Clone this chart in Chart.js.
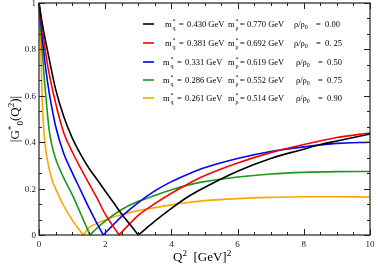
<!DOCTYPE html>
<html>
<head>
<meta charset="utf-8">
<script src="https://cdn.jsdelivr.net/npm/chart.js@4"></script>
<style>
  body { margin: 0; background: #fff; }
  canvas { display: block; }
</style>
</head>
<body>
<canvas id="formFactorChart" width="376" height="267"></canvas>
<script>
// |G*_0(Q^2)|, one curve per density
const q2Black  = [0, 0.1, 0.25, 0.5, 0.75, 1, 1.25, 1.5, 1.75, 2, 2.25, 2.5, 2.75, 3, 3.25, 3.5, 4, 4.5, 5, 6, 7, 8, 8.5, 9, 10]
const gBlack   = [1, 0.91, 0.8, 0.63, 0.51, 0.42, 0.35, 0.29, 0.24, 0.19, 0.14, 0.09, 0.045, 0, 0.03, 0.06, 0.115, 0.165, 0.205, 0.275, 0.33, 0.37, 0.39, 0.405, 0.435]

const q2Red    = [0, 0.1, 0.25, 0.5, 0.75, 1, 1.25, 1.5, 1.75, 2, 2.25, 2.42, 2.75, 3, 3.5, 4, 4.5, 5, 6, 7, 8, 9, 10]
const gRed     = [1, 0.89, 0.74, 0.57, 0.44, 0.36, 0.29, 0.225, 0.16, 0.09, 0.035, 0, 0.05, 0.085, 0.135, 0.18, 0.22, 0.255, 0.31, 0.355, 0.39, 0.42, 0.44]

const q2Blue   = [0, 0.1, 0.2, 0.3, 0.4, 0.5, 0.75, 1, 1.25, 1.5, 1.75, 1.94, 2.25, 2.5, 3, 3.5, 4, 4.5, 5, 6, 7, 8, 9, 10]
const gBlue    = [1, 0.85, 0.72, 0.62, 0.54, 0.47, 0.35, 0.27, 0.195, 0.12, 0.05, 0, 0.045, 0.08, 0.14, 0.19, 0.23, 0.262, 0.29, 0.33, 0.36, 0.38, 0.395, 0.4]

const q2Green  = [0, 0.05, 0.1, 0.15, 0.2, 0.3, 0.4, 0.5, 0.75, 1, 1.25, 1.54, 1.75, 2, 2.5, 3, 3.5, 4, 4.5, 5, 6, 7, 8, 9, 10]
const gGreen   = [1, 0.9, 0.79, 0.69, 0.61, 0.46, 0.38, 0.33, 0.245, 0.175, 0.095, 0, 0.03, 0.06, 0.11, 0.145, 0.17, 0.195, 0.215, 0.23, 0.25, 0.263, 0.27, 0.273, 0.274]

const q2Orange = [0, 0.05, 0.1, 0.15, 0.2, 0.3, 0.4, 0.5, 0.75, 1, 1.2, 1.35, 1.5, 1.75, 2, 2.5, 3, 3.5, 4, 4.5, 5, 6, 7, 8, 9, 10]
const gOrange  = [1, 0.82, 0.57, 0.44, 0.37, 0.29, 0.235, 0.2, 0.125, 0.065, 0.025, 0, 0.03, 0.05, 0.065, 0.088, 0.105, 0.118, 0.13, 0.14, 0.148, 0.157, 0.162, 0.165, 0.165, 0.164]

const curveColors = ['#000000', '#ff0000', '#0000ff', '#1a9a1a', '#ffa500']
const mqLabels   = ['0.430', '0.381', '0.331', '0.286', '0.261']
const mrhoLabels = ['0.770', '0.692', '0.619', '0.552', '0.514']
const rhoLabels  = ['0.00', '0. 25', '0.50', '0.75', '0.90']

const xTickValues = [0, 2, 4, 6, 8, 10]
const xTickLabels = ['0', '2', '4', '6', '8', '10']
const yTickValues = [0, 0.2, 0.4, 0.6, 0.8, 1]
const yTickLabels = ['0', '0.2', '0.4', '0.6', '0.8', '1']

const serif = '"Liberation Serif", "DejaVu Serif", serif'

// split each curve at its zero so the cusp stays sharp
function buildDatasets(xs, ys, color){
    const zeroIndex = ys.indexOf(0)
    const points = xs.map((x, i) => ({x, y: ys[i]}))
    const part = data => ({
        data,
        borderColor: color,
        borderWidth: 1.6,
        pointRadius: 0,
        fill: false,
        cubicInterpolationMode: 'monotone',
        clip: 3
    })
    return [part(points.slice(0, zeroIndex + 1)), part(points.slice(zeroIndex))]
}

// draws runs of text: [text, 'n' | 'sup' | 'sub']
function drawRuns(ctx, runs, x, y, size){
    runs.forEach(([text, kind]) => {
        const s = kind === 'n' ? size : size * 0.7
        const dy = kind === 'sup' ? -size * 0.42 : kind === 'sub' ? size * 0.28 : 0
        ctx.font = `${s}px ${serif}`
        ctx.fillText(text, x, y + dy)
        x += ctx.measureText(text).width
    })
    return x
}

function runsWidth(ctx, runs, size){
    return runs.reduce((w, [text, kind]) => {
        ctx.font = `${kind === 'n' ? size : size * 0.7}px ${serif}`
        return w + ctx.measureText(text).width
    }, 0)
}

// "m" with a star above and a subscript below, like the grace legend
function drawMass(ctx, x, y, sub){
    ctx.font = `8.5px ${serif}`
    ctx.fillText('m', x, y)
    ctx.font = `6px ${serif}`
    ctx.fillText('*', x + 7.5, y - 4)
    ctx.fillText(sub, x + 7.5, y + 3)
}

const gracePlugin = {
    id: 'grace',
    afterDraw(chart){
        const {ctx, chartArea: {left, right, top, bottom}, scales: {x, y}} = chart
        ctx.save()
        ctx.strokeStyle = '#222'
        ctx.lineWidth = 1.2
        ctx.strokeRect(left, top, right - left, bottom - top)

        // inward ticks on all four sides
        ctx.lineWidth = 1
        ctx.beginPath()
        for(let v = 0; v <= 10.001; v += 0.5){
            const px = Math.round(x.getPixelForValue(v)) + 0.5
            const len = Math.abs(v % 2) < 0.001 ? 6 : 3
            ctx.moveTo(px, bottom); ctx.lineTo(px, bottom - len)
            ctx.moveTo(px, top); ctx.lineTo(px, top + len)
        }
        for(let k = 0; k <= 15; k++){
            const py = Math.round(y.getPixelForValue(k / 15)) + 0.5
            const len = k % 3 === 0 ? 6 : 3
            ctx.moveTo(left, py); ctx.lineTo(left + len, py)
            ctx.moveTo(right, py); ctx.lineTo(right - len, py)
        }
        ctx.stroke()

        // tick labels
        ctx.fillStyle = '#222'
        ctx.font = `9px ${serif}`
        ctx.textAlign = 'center'
        ctx.textBaseline = 'alphabetic'
        xTickValues.forEach((v, i) => ctx.fillText(xTickLabels[i], x.getPixelForValue(v), bottom + 12))
        ctx.textAlign = 'right'
        yTickValues.forEach((v, i) => ctx.fillText(yTickLabels[i], left - 3, y.getPixelForValue(v) + 3))

        // axis titles
        ctx.fillStyle = '#000'
        ctx.textAlign = 'left'
        const xTitle = [['Q', 'n'], ['2', 'sup'], ['  [GeV]', 'n'], ['2', 'sup']]
        drawRuns(ctx, xTitle, 173, 261, 13)

        const yTitle = [['|G', 'n'], ['*', 'sup'], ['0', 'sub'], ['(Q', 'n'], ['2', 'sup'], [')|', 'n']]
        ctx.save()
        ctx.translate(19, 119)
        ctx.rotate(-Math.PI / 2)
        drawRuns(ctx, yTitle, -runsWidth(ctx, yTitle, 13) / 2, 0, 13)
        ctx.restore()

        // legend
        const rowY = [24, 43, 62, 80, 98]
        const shift = [0, 0, -2, -2, -2]
        curveColors.forEach((color, i) => {
            const yy = rowY[i]
            const base = yy + 3
            const s = shift[i]
            ctx.strokeStyle = color
            ctx.lineWidth = 1.6
            ctx.beginPath()
            ctx.moveTo(143, yy); ctx.lineTo(154, yy)
            ctx.stroke()

            ctx.fillStyle = '#000'
            drawMass(ctx, 165 + s, base, 'q')
            ctx.font = `8.5px ${serif}`
            ctx.fillText('=', 179 + s, base)
            ctx.fillText(mqLabels[i] + ' GeV', 187 + s, base)

            drawMass(ctx, 228, base, '\u03c1')
            ctx.font = `8.5px ${serif}`
            ctx.fillText('= ' + mrhoLabels[i] + ' GeV', 240, base)

            drawRuns(ctx, [['\u03c1/\u03c1', 'n'], ['0', 'sub']], 294 - s, base, 8.5)
            ctx.font = `8.5px ${serif}`
            ctx.fillText('=  ' + rhoLabels[i], 316 - s, base)
        })
        ctx.restore()
    }
}

document.addEventListener('DOMContentLoaded', () => {
    const context = document.getElementById('formFactorChart').getContext('2d')
    const datasets = [
        ...buildDatasets(q2Black, gBlack, curveColors[0]),
        ...buildDatasets(q2Red, gRed, curveColors[1]),
        ...buildDatasets(q2Blue, gBlue, curveColors[2]),
        ...buildDatasets(q2Green, gGreen, curveColors[3]),
        ...buildDatasets(q2Orange, gOrange, curveColors[4])
    ]

    new Chart(context, {
        type: 'line',
        data: {datasets},
        options: {
            responsive: false,
            animation: false,
            layout: {padding: {left: 39, right: 6, top: 3, bottom: 32}},
            scales: {
                x: {type: 'linear', min: 0, max: 10, display: false},
                y: {type: 'linear', min: 0, max: 1, display: false}
            },
            plugins: {
                legend: {display: false},
                tooltip: {enabled: false}
            }
        },
        plugins: [gracePlugin]
    })
})
</script>
</body>
</html>
